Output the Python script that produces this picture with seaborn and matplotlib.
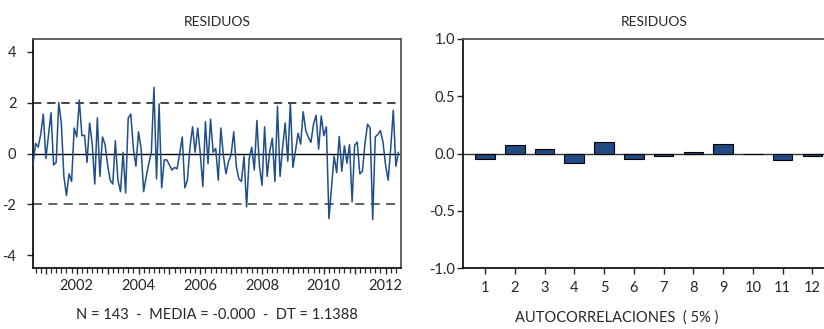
import numpy as np
import matplotlib
matplotlib.use("Agg")
import matplotlib.pyplot as plt
import seaborn as sns

# residuos mensuales, desde 2000m8
residuos = [
    -0.45, 0.4, 0.25, 0.75, 1.55, -0.2, 0.7, 1.6, -0.45, -0.35,
    2.0, 1.2, -0.9, -1.65, -0.8, -1.1, 1.0, 0.65, 2.1, 0.7,
    0.72, -0.35, 1.2, 0.4, -1.2, 1.4, -0.9, 0.65, 0.35, -0.45,
    -1.05, -1.2, 0.5, -1.05, -1.5, 0.05, -1.55, 1.4, 1.55, 0.2,
    -0.5, 0.85, 0.2, -1.5, -0.9, -0.4, 0.05, 2.6, -1.0, 1.95,
    -1.35, -0.25, -0.25, -0.45,
    -0.65, -0.55, -0.6, 0.0, 0.65, -1.35, -1.05, 0.25, 1.05, 0.05,
    1.0, 0.0, -1.3, 1.25, -0.4, 1.35, 0.05, 0.2, -1.05, 1.0,
    -0.1, -0.8, -0.3, -0.05, 0.85, -0.5, -1.0, -1.1, -0.1, -2.1,
    -0.2, 0.25, -0.65, 1.3, -0.5, -1.25, 1.05, -0.9, 0.1, 0.6,
    -1.1, 1.85, -0.9, 0.25, 1.2, -0.3, 2.0,
    -0.55, 0.1, 0.8, 0.37, 1.64, 0.9, 0.64, 0.44, 1.15, 1.5,
    0.17, 1.47, 0.7, 1.05, -2.56, -1.35, -0.1, -0.75, 0.67, -0.7,
    0.3, -0.38, 0.35, -1.9, 0.33, 0.45, -0.8, -0.7, 0.4, 1.15,
    1.0, -2.6, 0.65, 0.75, 0.9, 0.45, -0.45, -1.05, 0.2, 1.7,
    -0.5, 0.05,
]
start_year = 2000
start_month = 8
year_labels = [2002, 2004, 2006, 2008, 2010, 2012]

lags = list(range(1, 13))
acf = [-0.044, 0.078, 0.035, -0.081, 0.10, -0.052, -0.023, 0.009, 0.084, -0.006, -0.058, -0.026]

sns.set_style("ticks")
plt.rcParams["font.family"] = ["Lato", "DejaVu Sans"]
plt.rcParams["font.size"] = 10.5

line_color = "#1f4e8c"
bar_color = "#1f4a82"

n = len(residuos)
t0 = start_year + (start_month - 1) / 12
t = t0 + np.arange(n) / 12

fig = plt.figure(figsize=(8.24, 3.29), dpi=100)
W, H = 824, 329

# panel izquierdo
ax1 = fig.add_axes([33 / W, 61 / H, 368 / W, 229 / H])
ax1.axhline(0, color="black", lw=1.0, zorder=1)
ax1.axhline(2, color="#222222", lw=1.2, ls=(0, (5, 3.5)), zorder=1)
ax1.axhline(-2, color="#555555", lw=1.3, ls=(0, (5, 3.5)), zorder=1)
sns.lineplot(x=t, y=residuos, ax=ax1, color=line_color, lw=1.1, zorder=3)
ax1.set_xlim(t0, t0 + n / 12)
ax1.set_ylim(-4.5, 4.5)
ax1.set_yticks([-4, -2, 0, 2, 4])
ax1.set_yticklabels(["-4", "-2", "0", "2", "4"])
years = list(range(2001, 2013))
ax1.set_xticks(years)
ax1.set_xticklabels([str(y) if y in year_labels else "" for y in years])
ax1.set_xticks([m for m in np.arange(2000, 2013, 2 / 12) if t0 <= m <= t0 + n / 12], minor=True)
ax1.tick_params(axis="x", which="major", length=4.5, width=1, pad=3.5)
ax1.tick_params(axis="x", which="minor", length=3.5, width=0.9)
ax1.tick_params(axis="y", length=4, width=1, pad=8)
ax1.set_title("RESIDUOS", fontsize=10, pad=9)
ax1.set_xlabel("N = 143  -  MEDIA = -0.000  -  DT = 1.1388", labelpad=11)
for s in ("left", "bottom"):
    ax1.spines[s].set_color("black")
    ax1.spines[s].set_linewidth(1.2)
for s in ("top", "right"):
    ax1.spines[s].set_visible(True)
    ax1.spines[s].set_color("#555555")
    ax1.spines[s].set_linewidth(1.3)

# panel derecho
ax2 = fig.add_axes([463.3 / W, 61 / H, 382.7 / W, 229 / H])
ax2.axhline(0, color="#333333", lw=1.0, zorder=1)
sns.barplot(x=lags, y=acf, native_scale=True, width=0.66, color=bar_color,
            saturation=1, edgecolor="black", linewidth=0.8, ax=ax2, zorder=3)
ax2.set_xlim(0.27, 13.13)
ax2.set_ylim(-1, 1)
ax2.set_yticks([-1, -0.5, 0, 0.5, 1])
ax2.set_yticklabels(["-1.0", "-0.5", "0.0", "0.5", "1.0"])
ax2.set_xticks(lags)
ax2.set_xticklabels([str(l) for l in lags])
ax2.tick_params(axis="x", length=4.5, width=1, pad=5)
ax2.tick_params(axis="y", length=4, width=1, pad=2)
ax2.set_title("RESIDUOS", fontsize=10, pad=9)
ax2.set_xlabel("AUTOCORRELACIONES  ( 5% )", x=0.40, labelpad=11)
ax2.set_ylabel("")
for s in ("left", "bottom"):
    ax2.spines[s].set_color("black")
    ax2.spines[s].set_linewidth(1.2)
ax2.spines["top"].set_visible(True)
ax2.spines["top"].set_color("#555555")
ax2.spines["top"].set_linewidth(1.3)
ax2.spines["right"].set_visible(False)

fig.savefig("out.png", dpi=100)
